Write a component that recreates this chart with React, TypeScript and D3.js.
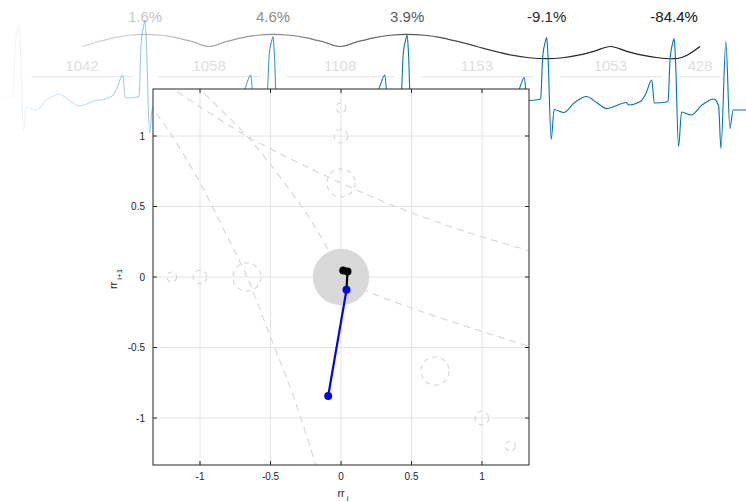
import React from 'react';
import * as d3 from 'd3';

// RR intervals (ms) between consecutive beats and the relative change of each interval
const rrIntervals = [1042, 1058, 1108, 1153, 1053, 428];
const rrChanges = [1.6, 4.6, 3.9, -9.1, -84.4];

// Per-beat amplitudes (mV)
const rPeak = [1.5, 1.6, 1.27, 1.3, 1.3, 1.33];
const sTrough = [-0.6, -0.66, -0.68, -0.7, -0.74, -0.83];
const baseShift = [0, 0, 0, 0, -0.05, -0.1];

// Sinus beat template: [offset from R (ms), amplitude (mV)]
const preWave: [number, number][] = [
  [-380, 0], [-273, 0.08], [-231, 0.24], [-185, 0.5], [-163, 0.04], [-61, 0.06], [-50, 0.08],
];
const postWave: [number, number][] = [
  [62, -0.14], [140, -0.2], [231, 0], [330, 0.12], [413, 0], [496, -0.12], [661, 0],
];
// Ectopic (last) beat
const ectopicWave: [number, number][] = [
  [-60, -0.12], [-41, -0.97], [0, 1.17], [33, -0.57], [60, -0.2], [120, -0.2], [220, -0.2],
];

// Change-trend ribbon: level at quarter steps of each half interval,
// running from the midpoint of the first interval to the midpoint of the last one
const trendLevel = [
  0, 0.38, 0.71, 0.92,
  1, 0.92, 0.71, 0.38,
  0, 0.38, 0.71, 0.92,
  1, 0.92, 0.71, 0.38,
  0, 0.38, 0.71, 0.92,
  1, 0.92, 0.71, 0.38,
  0, -0.38, -0.71, -0.92,
  -1, -0.92, -0.71, -0.38,
  0, -0.38, -0.71, -0.92,
  -1, -0.92, -0.71, -0.38,
  0,
];

// Reference guide curves in the (rr_i, rr_i+1) plane
const guideCurves: [number, number][][] = [
  [[-1.36, 1.23], [-1.213, 1.023], [-1.0, 0.669], [-0.833, 0.338], [-0.666, 0.0], [-0.501, -0.423], [-0.336, -0.849], [-0.175, -1.345]],
  [[-1.23, 1.36], [-0.668, 1.0], [0, 0.667], [0.469, 0.468], [0.942, 0.303], [1.36, 0.18]],
  [[-1.03, 1.36], [-0.668, 1.0], [-0.502, 0.8], [-0.218, 0.409], [-0.028, 0.078], [0.01, 0]],
  [[0.0, 0.0], [0.139, -0.08], [0.505, -0.222], [0.95, -0.37], [1.36, -0.5]],
];
// Reference pattern locations: [rr_i, rr_i+1, radius]
const guideRings: [number, number, number][] = [
  [0, 1.2, 0.035], [0, 1, 0.048], [0, 0.667, 0.1],
  [-1.2, 0, 0.035], [-1, 0, 0.048], [-0.667, 0, 0.1],
  [0.667, -0.667, 0.1], [1, -1, 0.048], [1.2, -1.2, 0.035],
];
const normalRadius = 0.2;
const axisTicks = [-1, -0.5, 0, 0.5, 1];

const FONT = "'Liberation Sans', Arial, Helvetica, sans-serif";

export default function App() {
  const beatTimes = [0, ...Array.from(d3.cumsum(rrIntervals))];
  const nBeats = beatTimes.length;

  // ECG samples assembled from beat templates
  const ecg: [number, number][] = [];
  beatTimes.forEach((t, i) => {
    if (i === nBeats - 1) {
      ectopicWave.forEach(([o, v]) => ecg.push([t + o, v]));
      return;
    }
    const r = rPeak[i], s = sTrough[i], b = baseShift[i];
    const nextIsEctopic = i + 1 === nBeats - 1;
    const limit = rrIntervals[i] + (nextIsEctopic ? ectopicWave[0][0] : preWave[0][0]);
    const lowLimit = i > 0 ? -(rrIntervals[i - 1] - 662) : -Infinity;
    const shape: [number, number][] = [
      ...preWave.filter(([o]) => o >= lowLimit),
      [-33, 0.7 * r], [-12, 0.93 * r], [0, r], [10, 0.75 * r], [37, s],
      ...postWave.filter(([o]) => o < limit),
    ];
    shape.forEach(([o, v]) => ecg.push([t + o, v + b]));
  });
  ecg.sort((a, b) => a[0] - b[0]);

  // Ribbon anchor times: interval midpoints and beats, split into quarter steps
  const anchors: number[] = [];
  for (let k = 0; k < rrIntervals.length - 1; k++) {
    anchors.push((beatTimes[k] + beatTimes[k + 1]) / 2, beatTimes[k + 1]);
  }
  anchors.push((beatTimes[nBeats - 2] + beatTimes[nBeats - 1]) / 2);
  const trendT: number[] = [];
  for (let k = 0; k < anchors.length - 1; k++) {
    for (let q = 0; q < 4; q++) trendT.push(anchors[k] + (anchors[k + 1] - anchors[k]) * q / 4);
  }
  trendT.push(anchors[anchors.length - 1]);

  const tX = d3.scaleLinear().domain([0, 1000]).range([19, 140]);
  const vY = d3.scaleLinear().domain([-1, 1]).range([150, 50]);
  const ecgPath = d3.line<[number, number]>()
    .x(d => tX(d[0])).y(d => vY(d[1]))
    .curve(d3.curveMonotoneX)(ecg) || '';

  const lvY = d3.scaleLinear().domain([-1, 1]).range([58.7, 34.3]);
  const trendPath = d3.line<number>()
    .x((_, i) => tX(trendT[i])).y(d => lvY(d))
    .curve(d3.curveCatmullRom)(trendLevel) || '';

  // Scatter axes
  const x = d3.scaleLinear().domain([-4 / 3, 4 / 3]).range([153, 529]);
  const y = d3.scaleLinear().domain([-4 / 3, 4 / 3]).range([465, 89]);
  const [x0, x1] = x.range();
  const [y0, y1] = y.range();
  const guideLine = d3.line<[number, number]>()
    .x(d => x(d[0])).y(d => y(d[1]))
    .curve(d3.curveCatmullRom);

  const pts = rrChanges.slice(0, -1).map((c, k) => [c / 100, rrChanges[k + 1] / 100] as [number, number]);
  const segColor = (k: number) => (k < pts.length - 2 ? '#000000' : '#0000ff');
  const ptColor = (k: number) => (k < pts.length - 2 ? '#000000' : '#0000ff');
  const axisColor = '#262626';
  const tickLen = 4;

  return (
    <svg width={746} height={502} style={{ position: 'absolute', left: 0, top: 0, background: '#fff' }} fontFamily={FONT}>
      <defs>
        <linearGradient id="ecgFade" gradientUnits="userSpaceOnUse" x1={0} y1={0} x2={746} y2={0}>
          <stop offset="0" stopColor="#0072bd" stopOpacity={0.03} />
          <stop offset={150 / 746} stopColor="#0072bd" stopOpacity={0.4} />
          <stop offset={280 / 746} stopColor="#0072bd" stopOpacity={0.75} />
          <stop offset={420 / 746} stopColor="#0072bd" stopOpacity={1} />
          <stop offset="1" stopColor="#0072bd" stopOpacity={1} />
        </linearGradient>
        <linearGradient id="trendFade" gradientUnits="userSpaceOnUse" x1={80} y1={0} x2={700} y2={0}>
          <stop offset="0" stopColor="#d8d8d8" />
          <stop offset="0.105" stopColor="#c6c6c6" />
          <stop offset="0.311" stopColor="#8c8c8c" />
          <stop offset="0.529" stopColor="#595959" />
          <stop offset="0.752" stopColor="#2b2b2b" />
          <stop offset="1" stopColor="#1a1a1a" />
        </linearGradient>
        <clipPath id="plotClip">
          <rect x={x0} y={y1} width={x1 - x0} height={y0 - y1} />
        </clipPath>
      </defs>

      {/* trend ribbon and percentage labels */}
      <path d={trendPath} fill="none" stroke="url(#trendFade)" strokeWidth={1.2} />
      {rrChanges.map((c, k) => (
        <text key={'p' + k} x={tX(beatTimes[k + 1])} y={21.5} fontSize={15} textAnchor="middle" fill="url(#trendFade)">
          {`${c.toFixed(1)}%`}
        </text>
      ))}

      {/* RR interval labels */}
      {rrIntervals.map((rr, k) => {
        const a = beatTimes[k], b = beatTimes[k + 1];
        return (
          <g key={'rr' + k}>
            <line x1={tX(a + 0.1 * rr)} x2={tX(b - 0.1 * rr)} y1={76.7} y2={76.7} stroke="#e8e8e8" strokeWidth={1.2} />
            <text x={tX((a + b) / 2)} y={70.7} fontSize={15} textAnchor="middle" fill="#dedede">{rr}</text>
          </g>
        );
      })}

      {/* ECG trace */}
      <path d={ecgPath} fill="none" stroke="url(#ecgFade)" strokeWidth={1.1} strokeLinejoin="round" />

      {/* scatter plot */}
      <rect x={x0} y={y1} width={x1 - x0} height={y0 - y1} fill="#ffffff" />
      <g clipPath="url(#plotClip)">
        {axisTicks.map(t => (
          <g key={'g' + t}>
            <line x1={x(t)} x2={x(t)} y1={y1} y2={y0} stroke="#e4e4e4" strokeWidth={1} />
            <line x1={x0} x2={x1} y1={y(t)} y2={y(t)} stroke="#e4e4e4" strokeWidth={1} />
          </g>
        ))}
        <circle cx={x(0)} cy={y(0)} r={x(normalRadius) - x(0)} fill="#d9d9d9" />
        {guideCurves.map((c, k) => (
          <path key={'c' + k} d={guideLine(c) || ''} fill="none" stroke="#d6d6d6" strokeWidth={1.1} strokeDasharray="7,5" />
        ))}
        {guideRings.map(([a, b, r], k) => (
          <circle key={'r' + k} cx={x(a)} cy={y(b)} r={x(r) - x(0)} fill="none" stroke="#d6d6d6" strokeWidth={1.1} strokeDasharray="5,4" />
        ))}
        {pts.slice(0, -1).map((p, k) => (
          <line key={'s' + k} x1={x(p[0])} y1={y(p[1])} x2={x(pts[k + 1][0])} y2={y(pts[k + 1][1])}
            stroke={segColor(k)} strokeWidth={2.2} />
        ))}
        {pts.map((p, k) => (
          <circle key={'m' + k} cx={x(p[0])} cy={y(p[1])} r={4} fill={ptColor(k)} />
        ))}
      </g>

      {/* axes box and ticks */}
      <rect x={x0} y={y1} width={x1 - x0} height={y0 - y1} fill="none" stroke={axisColor} strokeWidth={1} />
      {axisTicks.map(t => (
        <g key={'t' + t} stroke={axisColor} strokeWidth={1}>
          <line x1={x(t)} x2={x(t)} y1={y0} y2={y0 - tickLen} />
          <line x1={x(t)} x2={x(t)} y1={y1} y2={y1 + tickLen} />
          <line x1={x0} x2={x0 + tickLen} y1={y(t)} y2={y(t)} />
          <line x1={x1} x2={x1 - tickLen} y1={y(t)} y2={y(t)} />
        </g>
      ))}
      {axisTicks.map(t => (
        <text key={'xl' + t} x={x(t)} y={y0 + 15} fontSize={10} textAnchor="middle" fill={axisColor}>{String(t)}</text>
      ))}
      {axisTicks.map(t => (
        <text key={'yl' + t} x={x0 - 8} y={y(t) + 3.5} fontSize={10} textAnchor="end" fill={axisColor}>{String(t)}</text>
      ))}
      <text x={343} y={497} fontSize={11} textAnchor="middle" fill={axisColor}>
        <tspan>rr</tspan><tspan fontSize={8} dx={2} dy={4}>i</tspan>
      </text>
      <text transform="translate(117,279) rotate(-90)" fontSize={11} textAnchor="middle" fill={axisColor}>
        <tspan>rr</tspan><tspan fontSize={8} dx={2} dy={5}>i+1</tspan>
      </text>
    </svg>
  );
}
